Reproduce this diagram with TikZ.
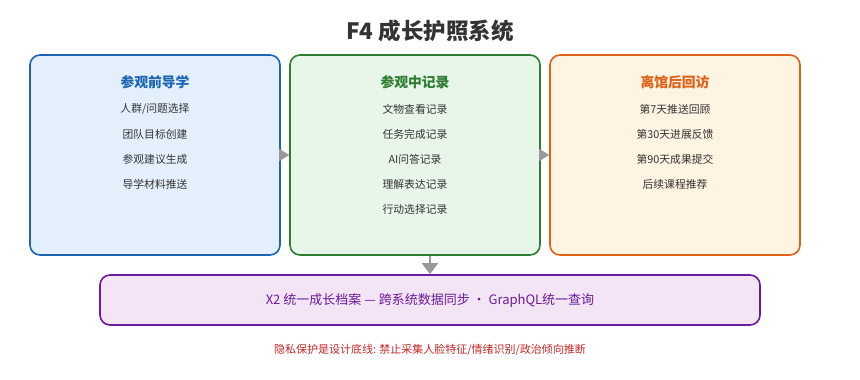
\documentclass[tikz,border=0pt]{standalone}
\usepackage{fontspec}
\setmainfont{Noto Sans CJK SC}
\usetikzlibrary{arrows.meta}

\definecolor{preblue}{HTML}{1E64B4}
\definecolor{prefill}{HTML}{E3F0FC}
\definecolor{midgreen}{HTML}{2E7D32}
\definecolor{midfill}{HTML}{E8F5E9}
\definecolor{postorange}{HTML}{E0611A}
\definecolor{postfill}{HTML}{FFF3E2}
\definecolor{archpurple}{HTML}{6A1B9A}
\definecolor{archfill}{HTML}{F3E5F5}
\definecolor{itemgray}{HTML}{333333}
\definecolor{arrowgray}{HTML}{999999}
\definecolor{noticered}{HTML}{C62828}

\begin{document}
\begin{tikzpicture}[x=1pt, y=-1pt,
  stage/.style={draw, line width=1.6pt, rounded corners=10pt,
    minimum width=250pt, minimum height=200pt},
  stagetitle/.style={font=\bfseries\fontsize{13.8}{16}\selectfont},
  item/.style={font=\fontsize{10.8}{12}\selectfont, text=itemgray},
  flow/.style={-{Triangle[length=10pt,width=12pt]}, line width=1.6pt, arrowgray}]
  \useasboundingbox (0,0) rectangle (860,380);

  \node[font=\bfseries\fontsize{22.5}{26}\selectfont, text=itemgray] (title) at (430,31) {F4 成长护照系统};

  % 三个阶段
  \node[stage, draw=preblue, fill=prefill] (pre) at (155,155) {};
  \node[stage, draw=midgreen, fill=midfill] (mid) at (415,155) {};
  \node[stage, draw=postorange, fill=postfill] (post) at (675,155) {};

  \node[stagetitle, text=preblue] (pretitle) at (155,82) {参观前导学};
  \node[stagetitle, text=midgreen] (midtitle) at (415,82) {参观中记录};
  \node[stagetitle, text=postorange] (posttitle) at (675,82) {离馆后回访};

  \foreach \txt [count=\i] in {人群/问题选择, 团队目标创建, 参观建议生成, 导学材料推送}
    \node[item] (pre-\i) at (155,84+25*\i) {\txt};
  \foreach \txt [count=\i] in {文物查看记录, 任务完成记录, AI问答记录, 理解表达记录, 行动选择记录}
    \node[item] (mid-\i) at (415,84+25*\i) {\txt};
  \foreach \txt [count=\i] in {第7天推送回顾, 第30天进展反馈, 第90天成果提交, 后续课程推荐}
    \node[item] (post-\i) at (675,84+25*\i) {\txt};

  % 统一档案
  \node[draw=archpurple, fill=archfill, line width=1.6pt, rounded corners=10pt,
    minimum width=660pt, minimum height=50pt, text=archpurple,
    font=\fontsize{13}{15}\selectfont] (archive) at (430,300)
    {X2 统一成长档案 — 跨系统数据同步 · GraphQL统一查询};

  \draw[flow] (pre.east) -- (mid.west);
  \draw[flow] (mid.east) -- (post.west);
  \draw[flow, -{Triangle[length=11pt,width=16pt]}] (mid.south -| archive.north) -- (archive.north);

  \node[font=\fontsize{11}{13}\selectfont, text=noticered] (notice) at (430,350)
    {隐私保护是设计底线: 禁止采集人脸特征/情绪识别/政治倾向推断};
\end{tikzpicture}
\end{document}
